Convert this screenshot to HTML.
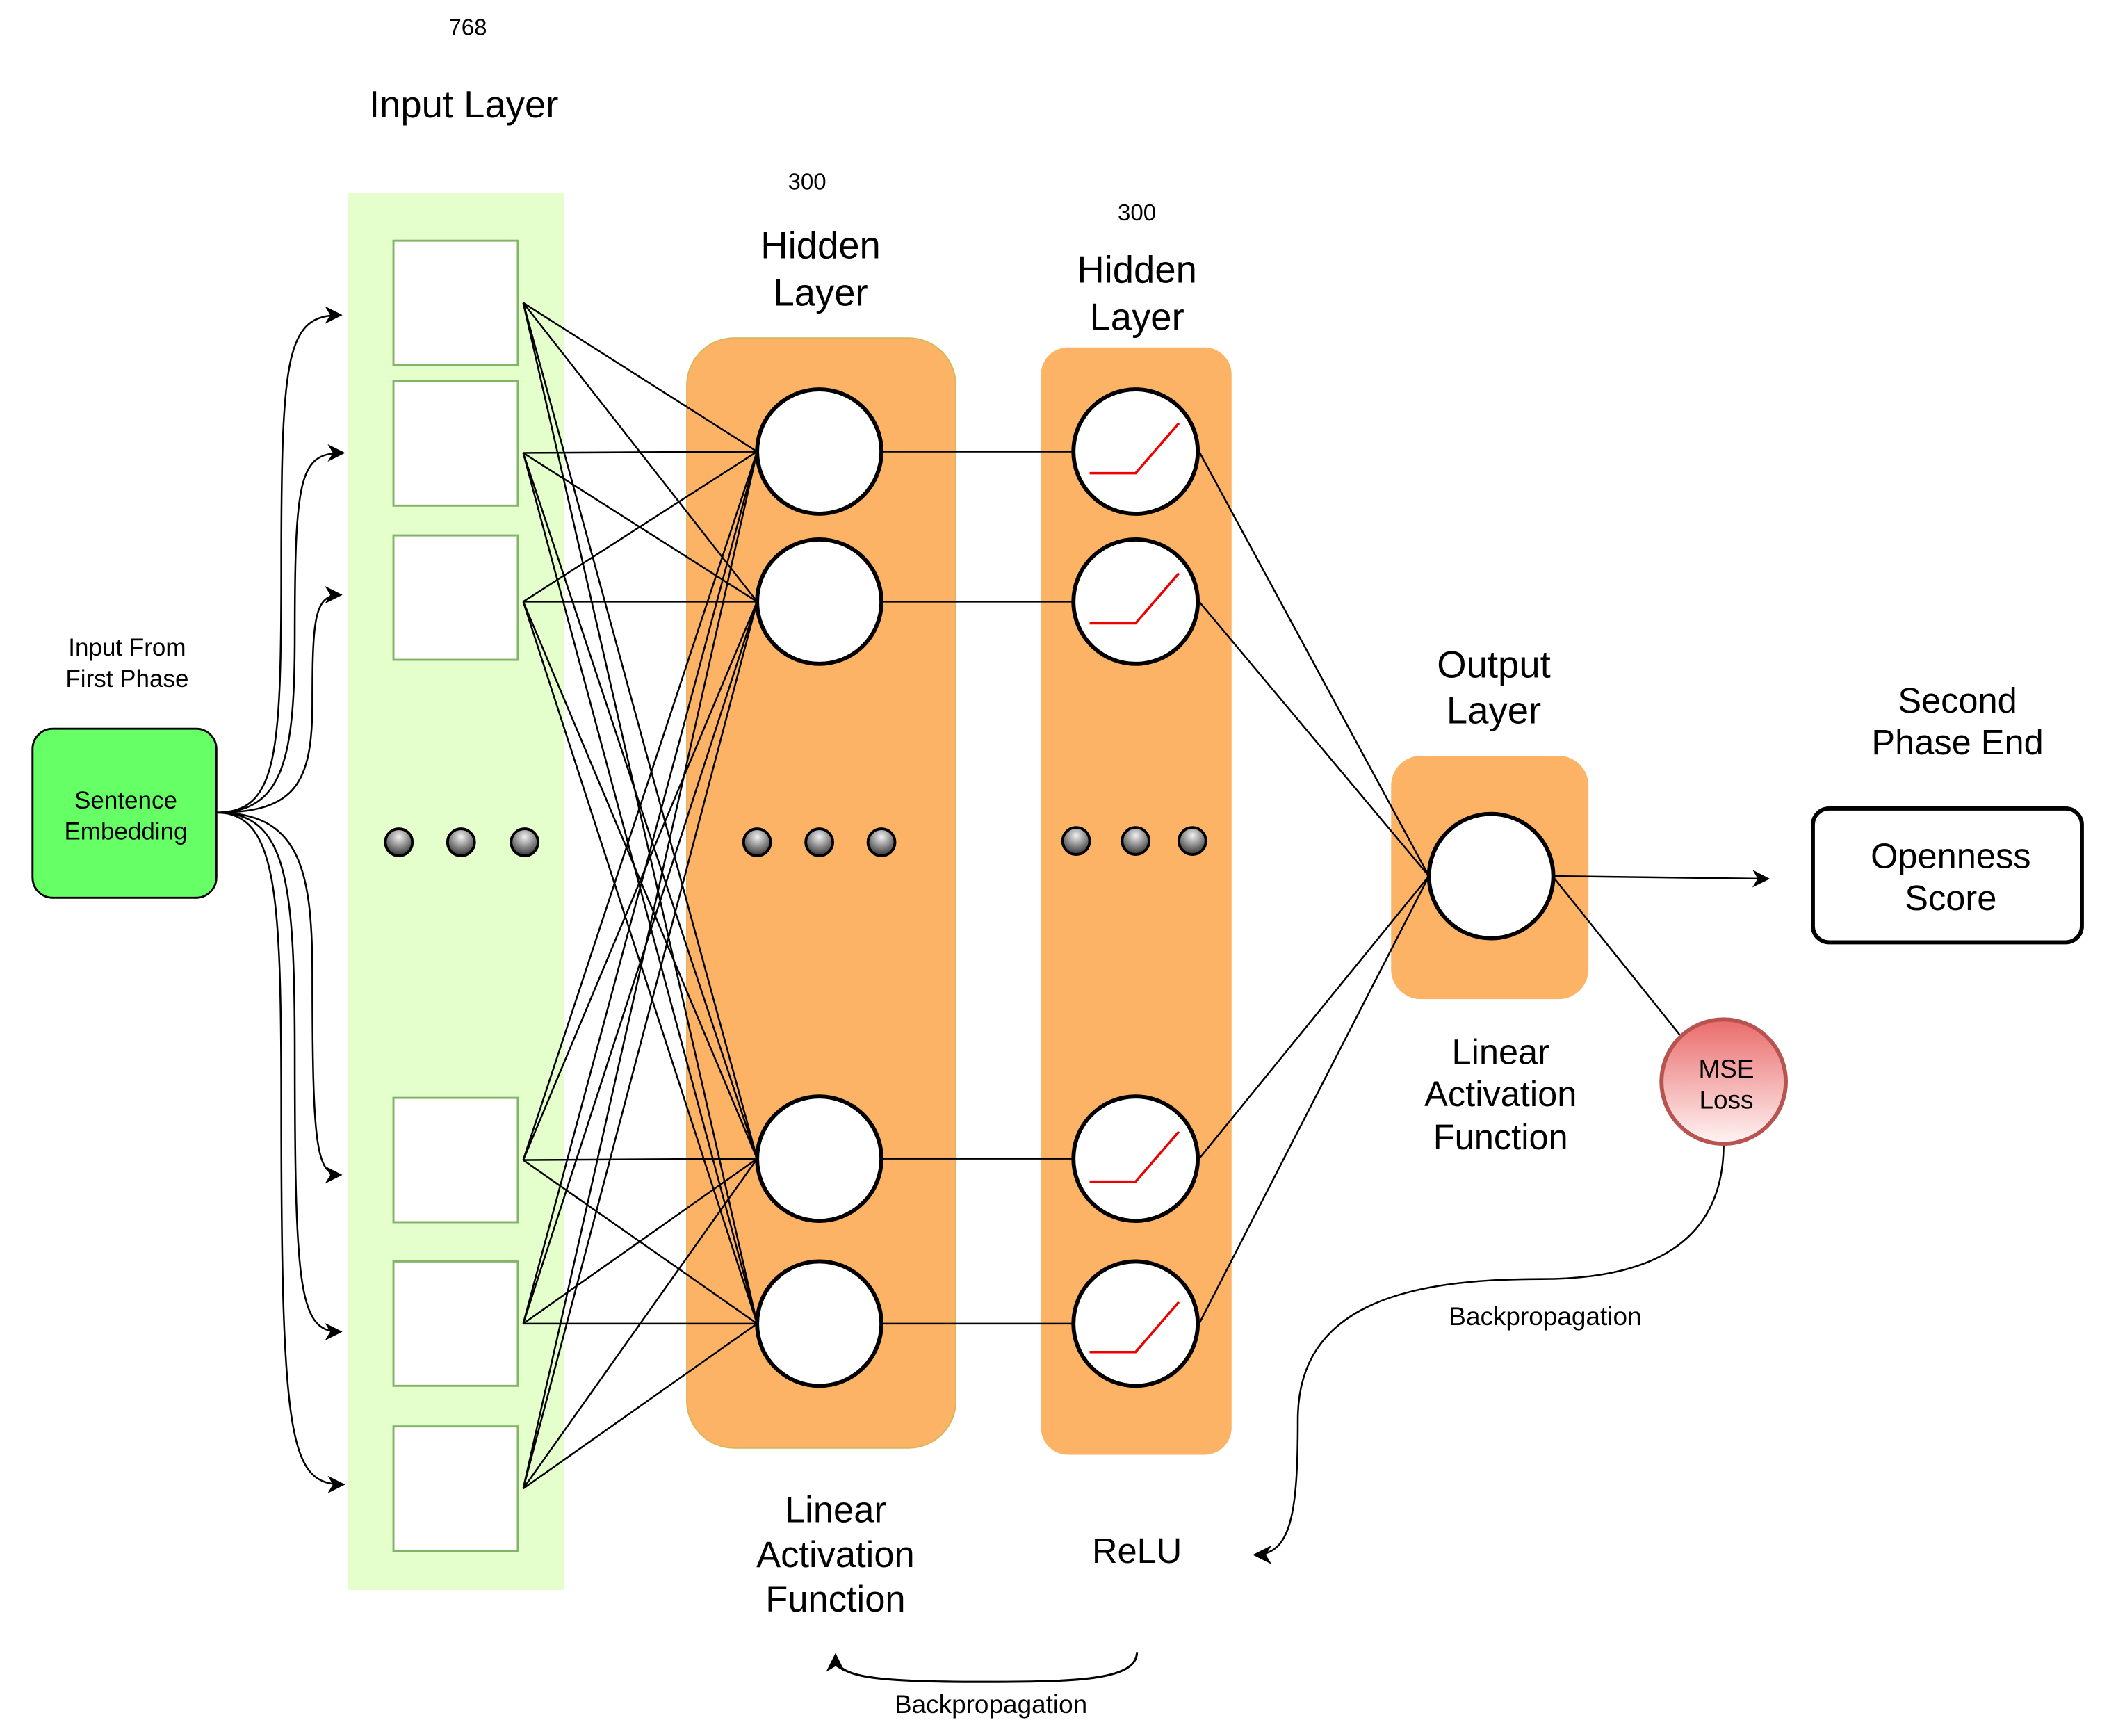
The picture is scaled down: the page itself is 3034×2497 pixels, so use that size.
<!DOCTYPE html>
<html><head><style>html,body{margin:0;padding:0;background:#fff}svg{display:block}</style></head><body>
<svg width="3034" height="2497" viewBox="0 0 1560 1284" xmlns="http://www.w3.org/2000/svg" font-family="Liberation Sans, sans-serif" text-anchor="middle">
<defs>
<radialGradient id="dot" cx="50%" cy="30%" r="70%"><stop offset="0" stop-color="#f0f0f0"/><stop offset="1" stop-color="#333"/></radialGradient>
<linearGradient id="mse" x1="0" y1="0" x2="0" y2="1"><stop offset="0" stop-color="#ea6b6b"/><stop offset="1" stop-color="#fff4f4"/></linearGradient>
<marker id="ah" viewBox="0 0 10 10" refX="9" refY="5" markerWidth="13" markerHeight="13" markerUnits="userSpaceOnUse" orient="auto"><path d="M0,0 L10,5 L0,10 L3,5 Z" fill="#000"/></marker>
<marker id="ah2" viewBox="0 0 10 10" refX="9" refY="5" markerWidth="14" markerHeight="14" markerUnits="userSpaceOnUse" orient="auto"><path d="M0,0 L10,5 L0,10 L3,5 Z" fill="#000"/></marker>
</defs>
<rect width="1560" height="1284" fill="#fff"/>
<rect x="257" y="143" width="160" height="1033" fill="#e4fecc"/>
<rect x="508" y="250" width="199" height="821" rx="35" fill="#fdb366" stroke="#d6b656" stroke-width="1"/>
<rect x="770" y="257" width="141" height="819" rx="20" fill="#fdb366"/>
<rect x="1029" y="559" width="146" height="180" rx="22" fill="#fdb366"/>
<g fill="#fff" stroke="#82b366" stroke-width="1.5">
<rect x="291" y="178" width="92" height="92"/><rect x="291" y="282" width="92" height="92"/><rect x="291" y="396" width="92" height="92"/>
<rect x="291" y="812" width="92" height="92"/><rect x="291" y="933" width="92" height="92"/><rect x="291" y="1055" width="92" height="92"/>
</g>
<g stroke="#000" stroke-width="1.3" fill="none">
<path d="M387,224L560,334M387,224L560,445M387,224L560,857M387,224L560,979
M387,335L560,334M387,335L560,445M387,335L560,857M387,335L560,979
M387,445L560,334M387,445L560,445M387,445L560,857M387,445L560,979
M387,858L560,334M387,858L560,445M387,858L560,857M387,858L560,979
M387,979L560,334M387,979L560,445M387,979L560,857M387,979L560,979
M387,1101L560,334M387,1101L560,445M387,1101L560,857M387,1101L560,979
M652,334H794M652,445H794M652,857H794M652,979H794
M887,334L1057,648M887,445L1057,648M887,857L1057,648M887,979L1057,648
M1150,650L1243,766"/>
<path d="M1150,648L1308,650" marker-end="url(#ah)"/>
<path d="M160,601C205,601 208,560 208,420C208,260 212,233 252,233" marker-end="url(#ah)"/>
<path d="M160,601C210,601 218,560 218,470C218,350 222,335 254,335" marker-end="url(#ah)"/>
<path d="M160,601C218,601 231,580 231,520C231,455 233,440 252,440" marker-end="url(#ah)"/>
<path d="M160,601C220,601 231,640 231,720C231,850 234,869 252,869" marker-end="url(#ah)"/>
<path d="M160,601C212,601 218,650 218,780C218,960 222,985 252,985" marker-end="url(#ah)"/>
<path d="M160,601C205,601 208,660 208,820C208,1070 215,1098 254,1098" marker-end="url(#ah)"/>
<path d="M1275,846C1275,920 1220,946 1140,946C1040,946 960,965 960,1050C960,1120 955,1150 928,1150" marker-end="url(#ah2)"/>
<path d="M841,1222C841,1242 800,1244 730,1244C640,1244 618,1240 618,1224" marker-end="url(#ah2)" stroke-width="1.6"/>
</g>
<g fill="#fff" stroke="#000" stroke-width="3">
<circle cx="606" cy="334" r="46"/><circle cx="606" cy="445" r="46"/><circle cx="606" cy="857" r="46"/><circle cx="606" cy="979" r="46"/>
<circle cx="840" cy="334" r="46"/><circle cx="840" cy="445" r="46"/><circle cx="840" cy="857" r="46"/><circle cx="840" cy="979" r="46"/>
<circle cx="1103" cy="648" r="46"/>
</g>
<g stroke="#e00" stroke-width="1.8" fill="none">
<path d="M806,350H840L872,313"/><path d="M806,461H840L872,424"/><path d="M806,874H840L872,837"/><path d="M806,1000H840L872,963"/>
</g>
<g fill="url(#dot)" stroke="#000" stroke-width="2">
<circle cx="295" cy="623" r="10"/><circle cx="341" cy="623" r="10"/><circle cx="388" cy="623" r="10"/>
<circle cx="560" cy="623" r="10"/><circle cx="606" cy="623" r="10"/><circle cx="652" cy="623" r="10"/>
<circle cx="796" cy="622" r="10"/><circle cx="840" cy="622" r="10"/><circle cx="882" cy="622" r="10"/>
</g>
<rect x="24" y="539" width="136" height="125" rx="15" fill="#66ff66" stroke="#000" stroke-width="1.5"/>
<rect x="1341" y="598" width="199" height="99" rx="12" fill="#fff" stroke="#000" stroke-width="3"/>
<circle cx="1275" cy="800" r="46" fill="url(#mse)" stroke="#b85450" stroke-width="3"/>
<g fill="#000">
<text x="346" y="26" font-size="17">768</text>
<text x="343" y="87" font-size="28">Input Layer</text>
<text x="597" y="140" font-size="17">300</text>
<text x="607" y="191" font-size="28">Hidden</text><text x="607" y="226" font-size="28">Layer</text>
<text x="841" y="163" font-size="17">300</text>
<text x="841" y="209" font-size="28">Hidden</text><text x="841" y="244" font-size="28">Layer</text>
<text x="1105" y="501" font-size="28">Output</text><text x="1105" y="535" font-size="28">Layer</text>
<text x="1448" y="527" font-size="26">Second</text><text x="1448" y="558" font-size="26">Phase End</text>
<text x="1443" y="642" font-size="26">Openness</text><text x="1443" y="673" font-size="26">Score</text>
<text x="1110" y="787" font-size="26">Linear</text><text x="1110" y="818" font-size="26">Activation</text><text x="1110" y="850" font-size="26">Function</text>
<text x="1277" y="797" font-size="19">MSE</text><text x="1277" y="820" font-size="19">Loss</text>
<text x="1143" y="980" font-size="19">Backpropagation</text>
<text x="841" y="1156" font-size="26">ReLU</text>
<text x="618" y="1126" font-size="27">Linear</text><text x="618" y="1159" font-size="27">Activation</text><text x="618" y="1192" font-size="27">Function</text>
<text x="733" y="1267" font-size="19">Backpropagation</text>
<text x="94" y="485" font-size="18">Input From</text><text x="94" y="508" font-size="18">First Phase</text>
<text x="93" y="598" font-size="18">Sentence</text><text x="93" y="621" font-size="18">Embedding</text>
</g>
</svg>
</body></html>
